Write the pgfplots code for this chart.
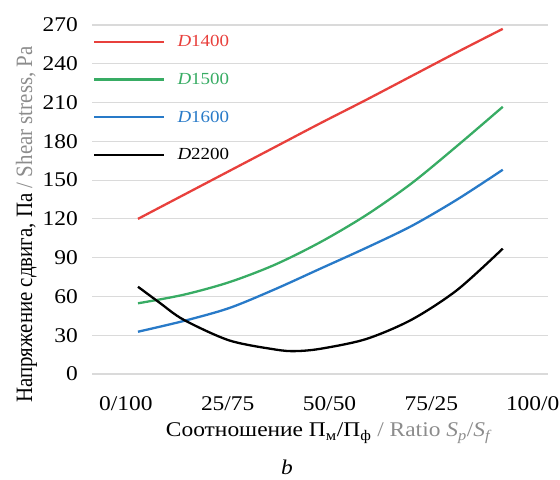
\documentclass[border=0pt]{standalone}
\usepackage{pgfplots}
\pgfplotsset{compat=1.18}
\usepackage{fontspec}
\setmainfont{Liberation Serif}
\definecolor{cred}{RGB}{232,64,60}
\definecolor{cgreen}{RGB}{56,172,100}
\definecolor{cblue}{RGB}{40,122,200}
\definecolor{cgrid}{RGB}{218,218,218}
\definecolor{cgraytxt}{RGB}{140,140,140}
\newcommand{\hs}[1]{\scalebox{1.12}[1]{#1}}
\begin{document}
\begin{tikzpicture}[x=1bp,y=1bp]
\useasboundingbox (0,0) rectangle (560,480);
\begin{axis}[
  at={(92bp,106bp)}, anchor=south west,
  scale only axis, width=456bp, height=349bp,
  xmin=-12.6, xmax=112.4, ymin=0, ymax=270,
  xtick={-3.3,24.6,52.5,80.4,108.2},
  xticklabels={\hs{0/100},\hs{25/75},\hs{50/50},\hs{75/25},\hs{100/0}},
  ytick={0,30,...,270},
  yticklabels={\hs{0},\hs{30},\hs{60},\hs{90},\hs{120},\hs{150},\hs{180},\hs{210},\hs{240},\hs{270}},
  ymajorgrids, major grid style={draw=cgrid, line width=1.2bp},
  axis line style={draw=none},
  major tick length=0pt,
  tick label style={font=\fontsize{21}{25}\selectfont},
  xticklabel style={anchor=base, inner sep=0pt, yshift=-37bp},
  yticklabel style={anchor=east, inner sep=0pt, xshift=-14bp},
  legend style={at={(0,1)}, anchor=north west, xshift=1bp, yshift=-8.5bp,
    draw=none, fill=none, font=\fontsize{17}{20}\selectfont,
    inner xsep=0pt, inner ysep=0pt, row sep=20.8bp,
    nodes={inner sep=2bp},
    /tikz/every odd column/.append style={column sep=10bp}},
  legend cell align=left,
  legend image code/.code={\draw[#1] (0bp,0bp) -- (70bp,0bp);},
  every axis plot/.append style={line width=2.3bp, smooth},
]
\addplot[cred] coordinates {(0,120) (12.5,138.5) (25,157) (37.5,175.5) (50,194) (62.5,212) (75,230.5) (87.5,249) (100,267)};
\addlegendentry{\textcolor{cred}{\hs{\textit{D}1400}}}
\addplot[cgreen] coordinates {(0,54.7) (12.5,61.3) (25,71) (37.5,84.5) (50,102) (62.5,122.8) (75,147.5) (87.5,176.5) (100,206.7)};
\addlegendentry{\textcolor{cgreen}{\hs{\textit{D}1500}}}
\addplot[cblue] coordinates {(0,32.7) (12.5,41) (25,51) (37.5,65.5) (50,81.5) (62.5,97.5) (75,114.5) (87.5,135) (100,158)};
\addlegendentry{\textcolor{cblue}{\hs{\textit{D}1600}}}
\addplot[black] coordinates {(0,67.5) (6,55) (12.5,42) (25,26) (37.5,19) (43,17.7) (50,19.5) (62.5,27) (75,42) (87.5,65) (100,97)};
\addlegendentry{\hs{\textit{D}2200}}
\end{axis}
\node[rotate=90, anchor=base west, inner sep=0pt, font=\fontsize{21}{25}\selectfont] at (32,77) {\scalebox{1}[1.12]{Напряжение сдвига, Па \textcolor{cgraytxt}{/ Shear stress, Pa}}};
\node[anchor=base, inner sep=0pt, font=\fontsize{21}{25}\selectfont] at (329,43) {\hs{Соотношение П\textsubscript{м}/П\textsubscript{ф} \textcolor{cgraytxt}{/ Ratio \textit{S}\textsubscript{\textit{p}}/\textit{S}\textsubscript{\textit{f}}}}};
\node[anchor=base, inner sep=0pt, font=\fontsize{21}{25}\selectfont\itshape] at (287,5) {\hs{b}};
\end{tikzpicture}
\end{document}
